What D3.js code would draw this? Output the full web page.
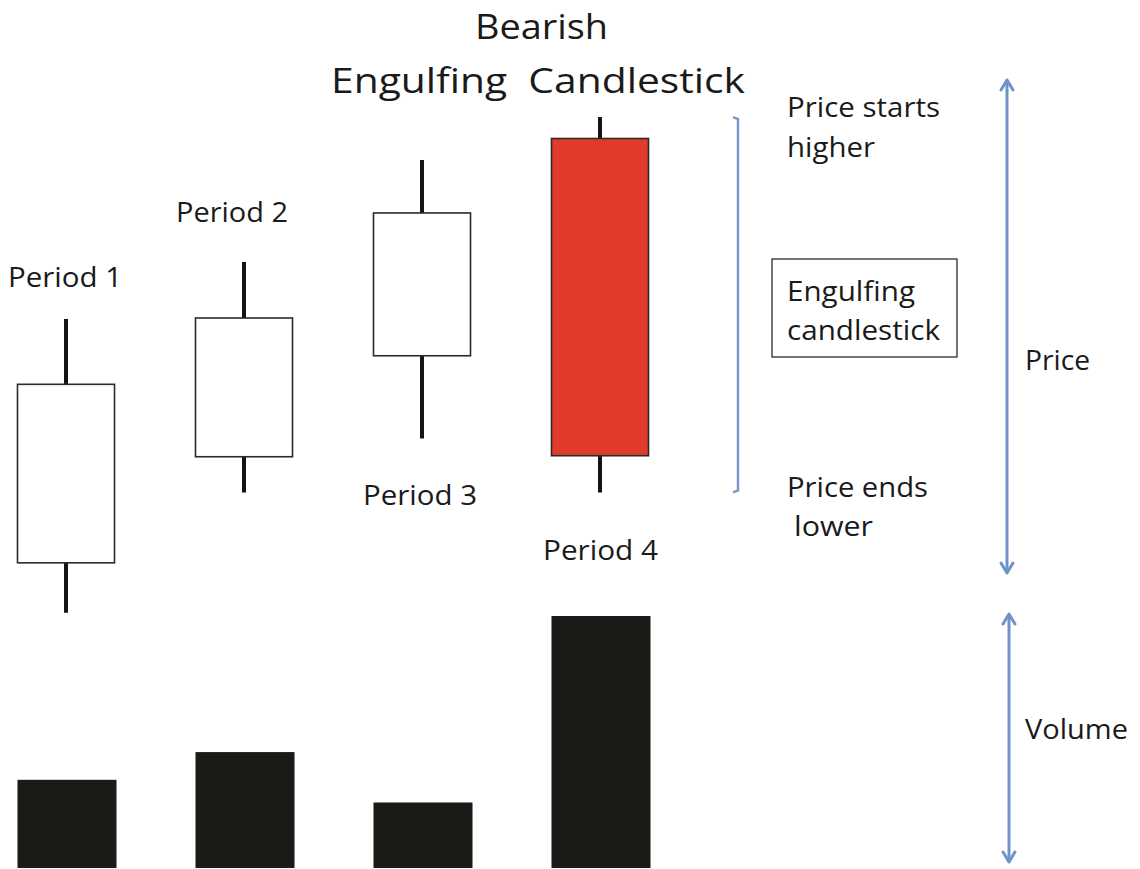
<!DOCTYPE html>
<html>
<head>
<meta charset="utf-8">
<script src="https://cdn.jsdelivr.net/npm/d3@7"></script>
<style>
  html, body { margin: 0; padding: 0; background: #fff; }
  svg { display: block; }
  text { font-family: "Open Sans", "Noto Sans", sans-serif; fill: #1a1a1a; }
</style>
</head>
<body>
<script>
// ---- data ----
const periods = ["Period 1", "Period 2", "Period 3", "Period 4"];
const openVals  = [5.9, 16.3, 26.2, 47.5];
const closeVals = [23.4, 29.9, 40.2, 16.4];
const highVals  = [29.8, 35.4, 45.4, 49.6];
const lowVals   = [1.0, 12.8, 18.1, 12.8];
const volumeVals = [35, 46, 26, 100];
const titleLines = ["Bearish", "Engulfing  Candlestick"];

const W = 1140, H = 869;
const svg = d3.select("body").append("svg").attr("width", W).attr("height", H);

const x = d3.scaleBand().domain(periods).range([17.5, 648.5]).paddingInner(0.455).paddingOuter(0);
const yPrice = d3.scaleLinear().domain([0, 50]).range([623, 113]);
const yVol = d3.scaleLinear().domain([0, 100]).range([868, 616]);

const candles = periods.map((p, i) => ({
  p, open: openVals[i], close: closeVals[i], high: highVals[i], low: lowVals[i], vol: volumeVals[i]
}));

// wicks
svg.append("g").selectAll("line").data(candles).join("line")
  .attr("x1", d => x(d.p) + x.bandwidth() / 2)
  .attr("x2", d => x(d.p) + x.bandwidth() / 2)
  .attr("y1", d => yPrice(d.high))
  .attr("y2", d => yPrice(d.low))
  .attr("stroke", "#141414")
  .attr("stroke-width", 4);

// bodies
svg.append("g").selectAll("rect").data(candles).join("rect")
  .attr("x", d => x(d.p))
  .attr("width", x.bandwidth())
  .attr("y", d => yPrice(Math.max(d.open, d.close)))
  .attr("height", d => Math.abs(yPrice(d.open) - yPrice(d.close)))
  .attr("fill", d => d.close < d.open ? "#e23b2b" : "#ffffff")
  .attr("stroke", "#2a2a2a")
  .attr("stroke-width", 1.6);

// volume bars
svg.append("g").selectAll("rect").data(candles).join("rect")
  .attr("x", d => x(d.p))
  .attr("width", x.bandwidth() + 2)
  .attr("y", d => yVol(d.vol))
  .attr("height", d => yVol(0) - yVol(d.vol))
  .attr("fill", "#1c1a17");

function label(txt, tx, ty, size, len) {
  return svg.append("text")
    .attr("x", tx).attr("y", ty)
    .attr("font-size", size)
    .attr("textLength", len)
    .attr("lengthAdjust", "spacingAndGlyphs")
    .attr("xml:space", "preserve")
    .style("white-space", "pre")
    .text(txt);
}

// period labels
const labelPos = [[8, 287, 114], [176, 222, 112], [363, 505, 114], [543, 560, 115]];
periods.forEach((p, i) => label(p, labelPos[i][0], labelPos[i][1], 27.5, labelPos[i][2]));

// title
label(titleLines[0], 475, 39, 35, 133);
label(titleLines[1], 331, 93, 35, 414);

// bracket
const bracketX = 738;
const bTop = yPrice(highVals[3]), bBot = yPrice(lowVals[3]);
svg.append("path")
  .attr("d", `M${bracketX - 5},${bTop} L${bracketX},${bTop + 2} L${bracketX},${bBot - 2} L${bracketX - 5},${bBot}`)
  .attr("fill", "none")
  .attr("stroke", "#7b97cc")
  .attr("stroke-width", 2.5);

// annotations
const fs = 27.5;
label("Price starts", 787, 117, fs, 153);
label("higher", 787, 157, fs, 88);
svg.append("rect").attr("x", 772).attr("y", 259).attr("width", 185).attr("height", 98)
  .attr("fill", "none").attr("stroke", "#2a2a2a").attr("stroke-width", 1.3);
label("Engulfing", 787, 301, fs, 128);
label("candlestick", 787, 340, fs, 153);
label("Price ends", 787, 497, fs, 141);
label("lower", 794, 536, fs, 79);
label("Price", 1025, 370, fs, 65);
label("Volume", 1025, 739, fs, 103);

// double arrows
const arrowColor = "#7091ca";
function dblArrow(ax, y1, y2) {
  const g = svg.append("g").attr("stroke", arrowColor).attr("fill", "none")
    .attr("stroke-width", 3).attr("stroke-linecap", "round").attr("stroke-linejoin", "round");
  g.append("line").attr("x1", ax).attr("x2", ax).attr("y1", y1 + 1).attr("y2", y2 - 1);
  g.append("path").attr("d", `M${ax - 6},${y1 + 10} L${ax},${y1} L${ax + 6},${y1 + 10}`);
  g.append("path").attr("d", `M${ax - 6},${y2 - 10} L${ax},${y2} L${ax + 6},${y2 - 10}`);
}
dblArrow(1007, 80, 573);
dblArrow(1009, 614, 862);
</script>
</body>
</html>
